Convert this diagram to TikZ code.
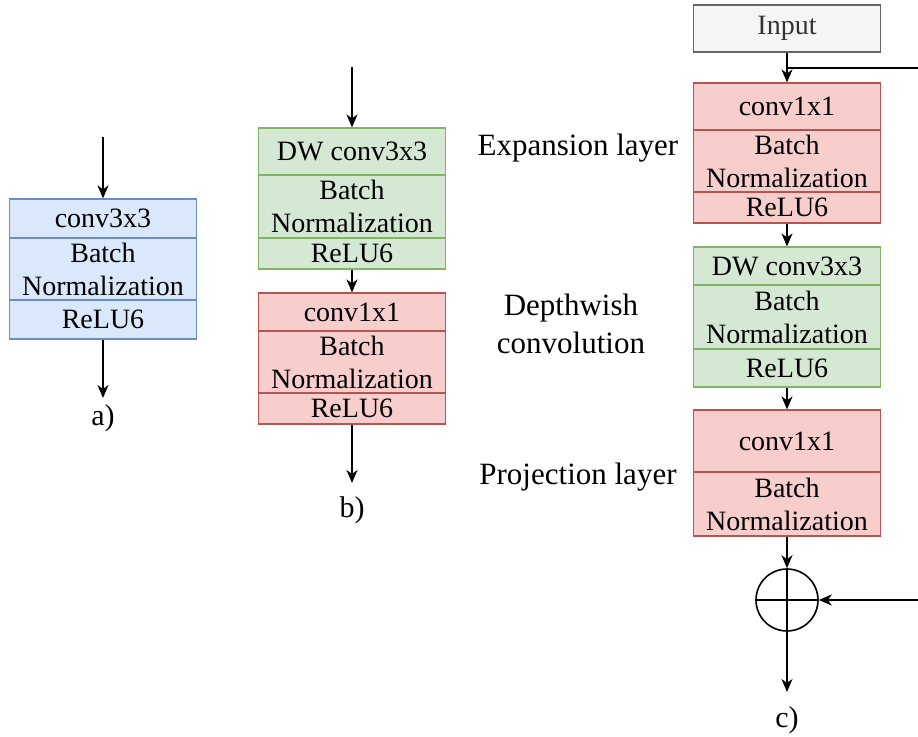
\documentclass[tikz,border=0pt]{standalone}
\usepackage{fontspec}
\setmainfont{Liberation Serif}
\usetikzlibrary{positioning,arrows.meta}

\definecolor{blueF}{HTML}{DAE8FC}
\definecolor{blueD}{HTML}{6C8EBF}
\definecolor{greenF}{HTML}{D5E8D4}
\definecolor{greenD}{HTML}{82B366}
\definecolor{redF}{HTML}{F8CECC}
\definecolor{redD}{HTML}{B85450}
\definecolor{greyF}{HTML}{F5F5F5}
\definecolor{greyD}{HTML}{666666}

\tikzset{
  cell/.style={draw, line width=0.6pt, minimum width=93.5pt, inner sep=0pt,
    align=center, font=\fontsize{14}{16.5}\selectfont},
  bluecell/.style={cell, fill=blueF, draw=blueD},
  greencell/.style={cell, fill=greenF, draw=greenD},
  redcell/.style={cell, fill=redF, draw=redD},
  inputcell/.style={cell, fill=greyF, draw=greyD, text=black!80},
  arr/.style={line width=0.8pt, -{Stealth[length=6.5pt,width=5.5pt,inset=2pt]}},
  side/.style={align=center, font=\fontsize{15.5}{19}\selectfont},
  caption/.style={font=\fontsize{15}{18}\selectfont}
}

\begin{document}
\begin{tikzpicture}[x=0.5pt,y=-0.5pt]
        \useasboundingbox (0,0) rectangle (918,736);
        \clip (0,0) rectangle (918,736);

        % a)
        \draw (103,218.5) node[bluecell, minimum height=19.5pt] (a1) {conv3x3};

        \draw (103,269) node[bluecell, minimum height=31pt] (a2) {Batch\\Normalization};

        \draw (103,319.5) node[bluecell, minimum height=19.5pt] (a3) {ReLU6};

        \coordinate (ain) at (103,137);
        \coordinate (aout) at (103,398);
        \draw (103,418) node[caption] (acap) {a)};

        \draw[arr] (ain) -- (a1.north);
        \draw[arr] (a3.south) -- (aout);

        % b)
        \draw (352,151.5) node[greencell, minimum height=23.5pt] (b1) {DW conv3x3};

        \draw (352,206.5) node[greencell, minimum height=31.5pt] (b2) {Batch\\Normalization};

        \draw (352,253.5) node[greencell, minimum height=15.5pt] (b3) {ReLU6};

        \draw (352,312) node[redcell, minimum height=19pt] (b4) {conv1x1};

        \draw (352,362) node[redcell, minimum height=31pt] (b5) {Batch\\Normalization};

        \draw (352,408.5) node[redcell, minimum height=15.5pt] (b6) {ReLU6};

        \coordinate (bin) at (352,67);
        \coordinate (bout) at (352,483);
        \draw (352,510) node[caption] (bcap) {b)};

        \draw[arr] (bin) -- (b1.north);
        \draw[arr] (b3.south) -- (b4.north);
        \draw[arr] (b6.south) -- (bout);

        % c)
        \draw (787,28.5) node[inputcell, minimum height=23.5pt] (input) {Input};

        \draw (787,106.5) node[redcell, minimum height=23.5pt] (c1) {conv1x1};

        \draw (787,161) node[redcell, minimum height=31pt] (c2) {Batch\\Normalization};

        \draw (787,207.5) node[redcell, minimum height=15.5pt] (c3) {ReLU6};

        \draw (787,266) node[greencell, minimum height=19pt] (c4) {DW conv3x3};

        \draw (787,317) node[greencell, minimum height=32pt] (c5) {Batch\\Normalization};

        \draw (787,368) node[greencell, minimum height=19pt] (c6) {ReLU6};

        \draw (787,441) node[redcell, minimum height=31pt] (c7) {conv1x1};

        \draw (787,504) node[redcell, minimum height=32pt] (c8) {Batch\\Normalization};

        \draw (787,600) node[draw, line width=0.8pt, circle, minimum size=31pt, inner sep=0pt] (plus) {};
        \draw[line width=0.8pt] (plus.north) -- (plus.south);
        \draw[line width=0.8pt] (plus.west) -- (plus.east);

        \coordinate (split) at (787,68);
        \coordinate (skipR) at (925,68);
        \coordinate (cout) at (787,692);
        \draw (787,720) node[caption] (ccap) {c)};

        \draw (578,148) node[side] (expl) {Expansion layer};
        \draw (571,324) node[side] (dwl) {Depthwish\\convolution};
        \draw (578,477) node[side] (projl) {Projection layer};

        \draw[arr] (input.south) -- (c1.north);
        \draw[arr] (c3.south) -- (c4.north);
        \draw[arr] (c6.south) -- (c7.north);
        \draw[arr] (c8.south) -- (plus.north);
        \draw[arr] (plus.south) -- (cout);
        \draw[arr] (split) -- (skipR) |- (plus.east);
      \end{tikzpicture}
\end{document}
